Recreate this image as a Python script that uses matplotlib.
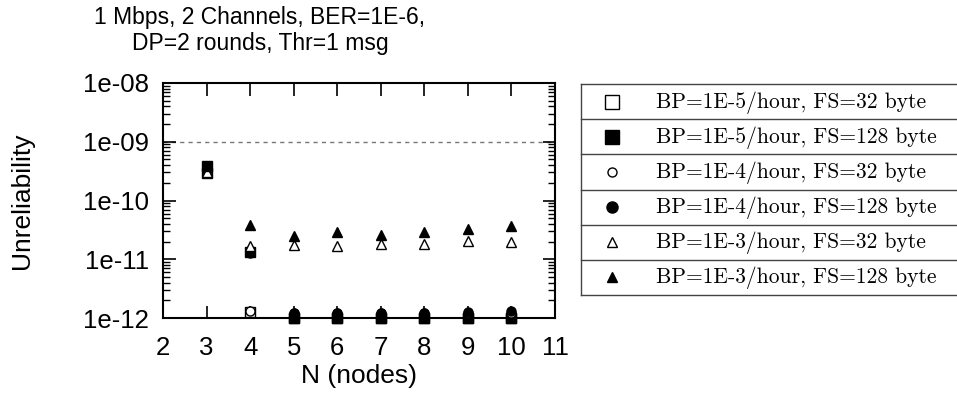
import matplotlib
matplotlib.use("Agg")
import matplotlib.pyplot as plt
from matplotlib.ticker import FixedLocator, FixedFormatter, LogLocator, NullFormatter

plt.rcParams['font.family'] = ['Liberation Sans', 'DejaVu Sans']

N = [3, 4, 5, 6, 7, 8, 9, 10]
bp5_fs32 = [2.9e-10, 1.25e-12, 1.0e-12, 1.0e-12, 1.0e-12, 1.0e-12, 1.0e-12, 1.0e-12]
bp5_fs128 = [3.9e-10, 1.35e-11, 1.0e-12, 1.0e-12, 1.0e-12, 1.0e-12, 1.0e-12, 1.0e-12]
bp4_fs32 = [3.0e-10, 1.3e-12, 1.2e-12, 1.2e-12, 1.2e-12, 1.2e-12, 1.2e-12, 1.2e-12]
bp4_fs128 = [3.3e-10, 1.3e-11, 1.2e-12, 1.2e-12, 1.2e-12, 1.2e-12, 1.25e-12, 1.3e-12]
bp3_fs32 = [3.1e-10, 1.7e-11, 1.75e-11, 1.7e-11, 1.8e-11, 1.8e-11, 2.05e-11, 1.95e-11]
bp3_fs128 = [3.9e-10, 3.8e-11, 2.5e-11, 2.9e-11, 2.6e-11, 2.9e-11, 3.3e-11, 3.7e-11]

labels = ["BP=1E-5/hour, FS=32 byte", "BP=1E-5/hour, FS=128 byte",
          "BP=1E-4/hour, FS=32 byte", "BP=1E-4/hour, FS=128 byte",
          "BP=1E-3/hour, FS=32 byte", "BP=1E-3/hour, FS=128 byte"]
series = [bp5_fs32, bp5_fs128, bp4_fs32, bp4_fs128, bp3_fs32, bp3_fs128]
styles = [("s", "white", 7.0), ("s", "black", 7.0), ("o", "white", 6.5),
          ("o", "black", 6.5), ("^", "white", 6.5), ("^", "black", 6.5)]
legend_styles = [("s", "white", 10.5), ("s", "black", 10.5), ("o", "white", 6.5),
                 ("o", "black", 8.0), ("^", "white", 7.5), ("^", "black", 7.5)]

threshold = 1e-9
xticks = [2, 3, 4, 5, 6, 7, 8, 9, 10, 11]
yticks = [1e-12, 1e-11, 1e-10, 1e-9, 1e-8]
ytick_labels = ["1e-12", "1e-11", "1e-10", "1e-09", "1e-08"]

W, H = 957, 403
fig = plt.figure(figsize=(W / 100, H / 100), dpi=100)
ax = fig.add_axes([163 / W, 1 - 318 / H, (555 - 163) / W, (318 - 83) / H])

ax.axhline(threshold, color="#777777", lw=1.0, ls=(0, (3, 3)), zorder=1)
for ys, (m, fc, ms) in zip(series, styles):
    ax.plot(N, ys, ls="none", marker=m, mfc=fc, mec="black", mew=1.0, ms=ms,
            zorder=3, clip_on=False)

ax.set_yscale("log")
ax.set_xlim(2, 11)
ax.set_ylim(1e-12, 1e-8)
ax.xaxis.set_major_locator(FixedLocator(xticks))
ax.yaxis.set_major_locator(FixedLocator(yticks))
ax.yaxis.set_major_formatter(FixedFormatter(ytick_labels))
ax.yaxis.set_minor_locator(LogLocator(base=10, subs=range(2, 10), numticks=20))
ax.yaxis.set_minor_formatter(NullFormatter())
ax.tick_params(axis="both", which="major", direction="in", length=9, width=1.2,
               top=True, right=True, labelsize=18.5)
ax.tick_params(axis="x", which="major", pad=13)
ax.tick_params(axis="y", which="major", pad=10)
ax.tick_params(axis="y", which="minor", direction="in", length=5, width=1.0,
               left=True, right=True)
for s in ax.spines.values():
    s.set_linewidth(1.5)
ax.set_xlabel("N (nodes)", fontsize=19, labelpad=3)
ax.set_ylabel("Unreliability", fontsize=19, labelpad=35)

fig.text(260 / W, 1 - 6 / H, "1 Mbps, 2 Channels, BER=1E-6,\nDP=2 rounds, Thr=1 msg",
         ha="center", va="top", fontsize=16.5, linespacing=1.15)

# legend box
lax = fig.add_axes([581 / W, 1 - 295 / H, (970 - 581) / W, (295 - 84) / H])
lax.set_xlim(581, 970)
lax.set_ylim(len(labels), 0)
lax.axis("off")
for i in range(len(labels) + 1):
    lax.plot([581, 970], [i, i], color="#444444", lw=1.0, clip_on=False)
lax.plot([581.5, 581.5], [0, len(labels)], color="#444444", lw=1.0, clip_on=False)
for i, (lab, (m, fc, ms)) in enumerate(zip(labels, legend_styles)):
    lax.plot([612], [i + 0.5], marker=m, mfc=fc, mec="black", mew=1.0, ms=ms)
    lax.text(656, i + 0.52, lab, ha="left", va="center", fontsize=15.5,
             family=["cmr10", "DejaVu Serif"])

fig.savefig("out.png", dpi=100)
